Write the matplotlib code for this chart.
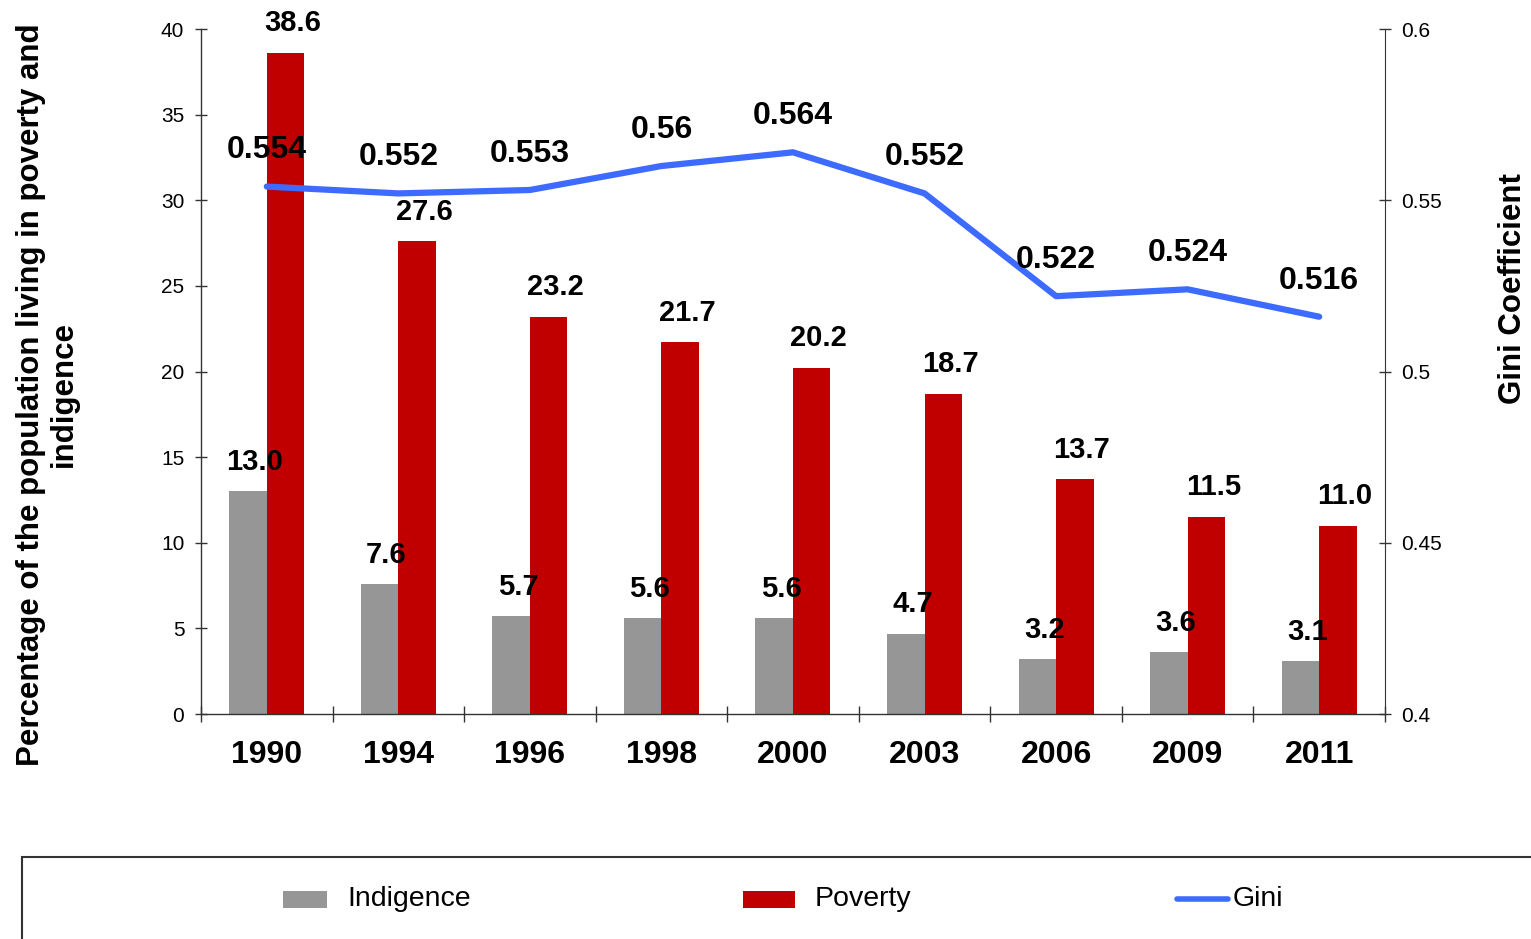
import matplotlib
matplotlib.use("Agg")
import matplotlib.pyplot as plt
from matplotlib import font_manager as fm
import numpy as np
from matplotlib.patches import Rectangle
from matplotlib.lines import Line2D

years = ["1990", "1994", "1996", "1998", "2000", "2003", "2006", "2009", "2011"]
indigence = [13.0, 7.6, 5.7, 5.6, 5.6, 4.7, 3.2, 3.6, 3.1]
poverty = [38.6, 27.6, 23.2, 21.7, 20.2, 18.7, 13.7, 11.5, 11.0]
gini = [0.554, 0.552, 0.553, 0.56, 0.564, 0.552, 0.522, 0.524, 0.516]
gini_labels = ["0.554", "0.552", "0.553", "0.56", "0.564", "0.552", "0.522", "0.524", "0.516"]

GREY = "#969696"
RED = "#C00000"
BLUE = "#3D6BFF"
SANS = ["Liberation Sans", "DejaVu Sans"]

names = {f.name for f in fm.fontManager.ttflist}
if "Liberation Sans Narrow" in names:
    NARROW = dict(family=["Liberation Sans Narrow", "Liberation Sans"])
elif "Arial Narrow" in names:
    NARROW = dict(family=["Arial Narrow", "Liberation Sans"])
else:
    NARROW = dict(family=SANS)

plt.rcParams["font.family"] = SANS

fig = plt.figure(figsize=(15.31, 9.39), dpi=100)
ax = fig.add_axes([0.1313, 0.2396, 0.7733, 0.7295])
x = np.arange(len(years))
w = 0.285

ax.bar(x - w / 2, indigence, width=w, color=GREY, zorder=2)
ax.bar(x + w / 2, poverty, width=w, color=RED, zorder=2)

for xi, v in zip(x, indigence):
    ax.annotate(f"{v:.1f}", (xi - w / 2, v), xytext=(5, 21), textcoords="offset points",
                ha="center", va="center", fontsize=21, fontweight="bold", zorder=5, **NARROW)
for xi, v in zip(x, poverty):
    ax.annotate(f"{v:.1f}", (xi + w / 2, v), xytext=(5, 21.5), textcoords="offset points",
                ha="center", va="center", fontsize=21, fontweight="bold", zorder=5, **NARROW)

ax.set_xlim(-0.5, len(years) - 0.5)
ax.set_ylim(0, 40)
ax.set_yticks(range(0, 41, 5))
ax.set_xticks(x)
ax.set_xticklabels(years, fontsize=23, fontweight="bold")
ax.set_xticks(np.arange(-0.5, len(years), 1.0), minor=True)
ax.tick_params(axis="x", which="major", length=0, pad=19)
ax.tick_params(axis="x", which="minor", direction="inout", length=11, width=1, color="#333333")
ax.tick_params(axis="y", direction="inout", length=8, width=1, color="#333333", labelsize=15, pad=8)
ax.spines["top"].set_visible(False)
ax.spines["right"].set_visible(False)
for s in ("left", "bottom"):
    ax.spines[s].set_color("#333333")
    ax.spines[s].set_linewidth(1)

ax2 = ax.twinx()
ax2.plot(x, gini, color=BLUE, linewidth=4.5, solid_capstyle="round", zorder=4)
for xi, v, lab in zip(x, gini, gini_labels):
    ax2.annotate(lab, (xi, v), xytext=(0, 26), textcoords="offset points",
                 ha="center", va="center", fontsize=23, fontweight="bold", zorder=6)
ax2.set_ylim(0.4, 0.6)
ax2.set_yticks([0.4, 0.45, 0.5, 0.55, 0.6])
ax2.set_yticklabels(["0.4", "0.45", "0.5", "0.55", "0.6"])
ax2.tick_params(axis="y", direction="inout", length=8, width=1, color="#333333", labelsize=15, pad=8)
ax2.spines["top"].set_visible(False)
ax2.spines["left"].set_visible(False)
ax2.spines["bottom"].set_visible(False)
ax2.spines["right"].set_color("#333333")

fig.text(0.031, 0.580, "Percentage of the population living in poverty and\nindigence",
         rotation=90, ha="center", va="center", fontsize=22.5, fontweight="bold",
         multialignment="center", linespacing=1.15)
fig.text(0.988, 0.693, "Gini Coefficient", rotation=90, ha="center", va="center",
         fontsize=22.5, fontweight="bold", **NARROW)

# legend box
W, H = 1531.0, 939.0
fig.patches.append(Rectangle((22 / W, -0.2), 1.2, 0.2 + (H - 857) / H, transform=fig.transFigure,
                             facecolor="white", edgecolor="#333333", linewidth=1.5, clip_on=False))
ly = (H - 899) / H
fig.patches.append(Rectangle((283 / W, (H - 908) / H), 44 / W, 17 / H, transform=fig.transFigure,
                             facecolor=GREY, edgecolor="none"))
fig.patches.append(Rectangle((743 / W, (H - 908) / H), 52 / W, 17 / H, transform=fig.transFigure,
                             facecolor=RED, edgecolor="none"))
fig.lines.append(Line2D([1177 / W, 1228 / W], [ly, ly], transform=fig.transFigure,
                        color=BLUE, linewidth=4, solid_capstyle="round"))
fig.text(347 / W, ly, "Indigence", ha="left", va="center", fontsize=20.5, **NARROW)
fig.text(815 / W, ly, "Poverty", ha="left", va="center", fontsize=20.5, **NARROW)
fig.text(1233 / W, ly, "Gini", ha="left", va="center", fontsize=20.5, **NARROW)

fig.savefig("out.png", dpi=100)
